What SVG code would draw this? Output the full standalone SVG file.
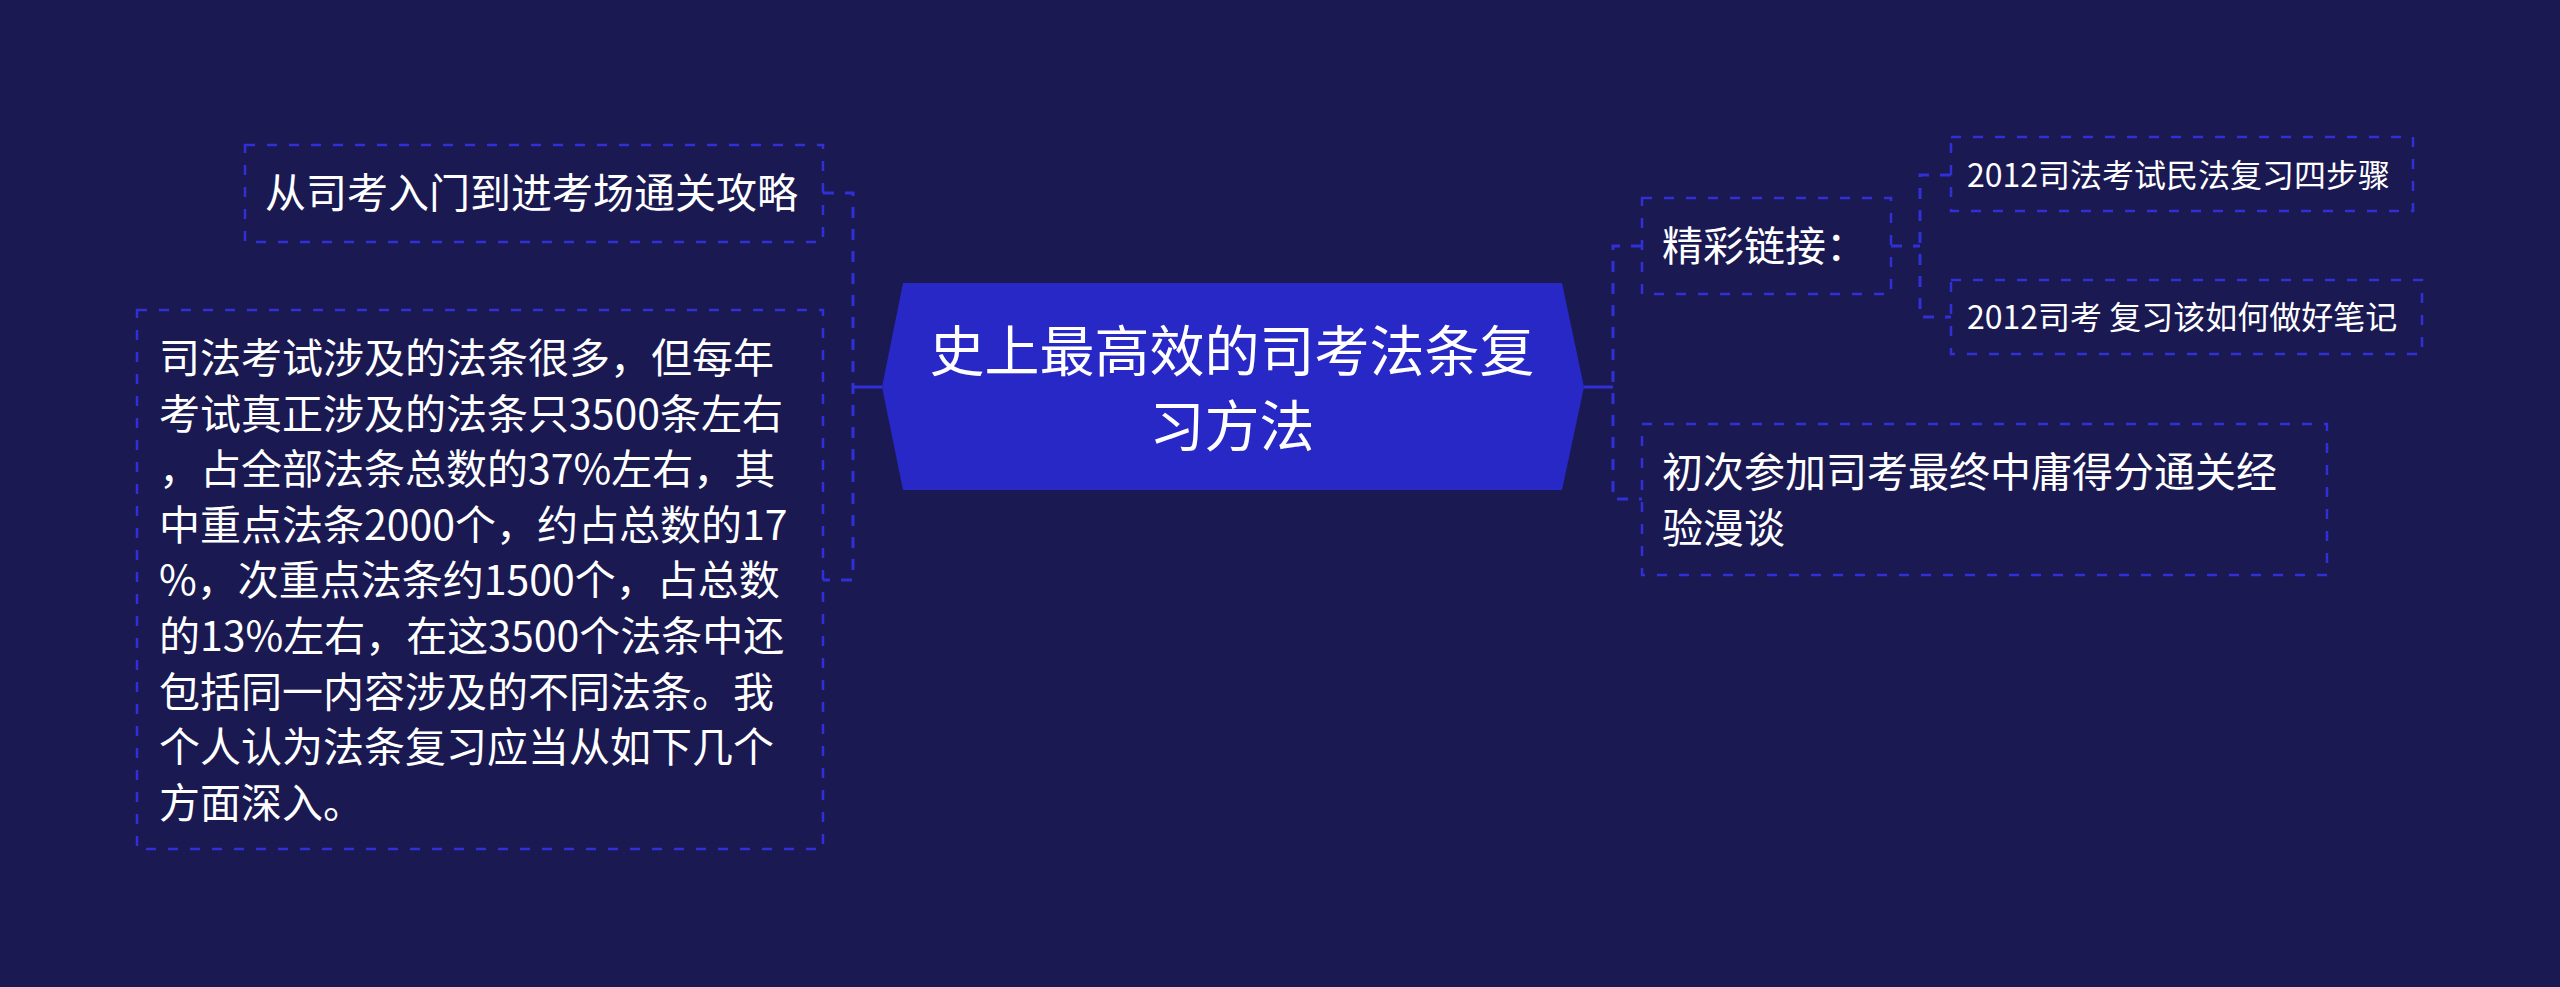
<svg xmlns="http://www.w3.org/2000/svg" width="2560" height="987" viewBox="0 0 2560 987">
<style>
.bg{fill:#1a1952}
.box{fill:none;stroke:#3030d6;stroke-width:2.5;stroke-dasharray:10 12}
.conn{fill:none;stroke:#3030d6;stroke-width:3;stroke-dasharray:11 11}
.solid{fill:none;stroke:#3030d6;stroke-width:3}
text{font-family:"Noto Sans CJK SC","Noto Sans",sans-serif;fill:#ffffff}
.t41{font-size:41px}
.t32{font-size:32px}
.t55{font-size:55px}
</style>
<rect class="bg" x="0" y="0" width="2560" height="987"/>
<g id="connectors">
<path class="conn" d="M823 193 H853 V580 H823"/>
<path class="solid" d="M853 387 H882"/>
<path class="solid" d="M1584 387 H1613"/>
<path class="conn" d="M1642 246 H1613 V499 H1642"/>
<path class="conn" d="M1891 246 H1920"/>
<path class="conn" d="M1951 175 H1920 V317 H1951"/>
</g>
<g id="center">
<polygon points="903,283 1562,283 1584,387 1562,490 903,490 882,387" fill="#2828c6"/>
<text class="t55" x="1232" y="371" text-anchor="middle">史上最高效的司考法条复</text>
<text class="t55" x="1232" y="446" text-anchor="middle">习方法</text>
</g>
<g id="node-left1">
<rect class="box" x="245" y="145" width="578" height="97"/>
<text class="t41" x="265" y="208">从司考入门到进考场通关攻略</text>
</g>
<g id="node-left2">
<rect class="box" x="137" y="310" width="686" height="539"/>
<text class="t41" x="159" y="373">司法考试涉及的法条很多，但每年</text>
<text class="t41" x="159" y="428.6">考试真正涉及的法条只3500条左右</text>
<text class="t41" x="159" y="484.2">，占全部法条总数的37%左右，其</text>
<text class="t41" x="159" y="539.8">中重点法条2000个，约占总数的17</text>
<text class="t41" x="159" y="595.4">%，次重点法条约1500个，占总数</text>
<text class="t41" x="159" y="651">的13%左右，在这3500个法条中还</text>
<text class="t41" x="159" y="706.6">包括同一内容涉及的不同法条。我</text>
<text class="t41" x="159" y="762.2">个人认为法条复习应当从如下几个</text>
<text class="t41" x="159" y="817.8">方面深入。</text>
</g>
<g id="node-links">
<rect class="box" x="1642" y="198" width="249" height="96"/>
<text class="t41" x="1662" y="261">精彩链接：</text>
</g>
<g id="node-link1">
<rect class="box" x="1951" y="137" width="462" height="74"/>
<text class="t32" x="1967" y="187">2012司法考试民法复习四步骤</text>
</g>
<g id="node-link2">
<rect class="box" x="1951" y="280" width="471" height="74"/>
<text class="t32" x="1967" y="329">2012司考 复习该如何做好笔记</text>
</g>
<g id="node-right2">
<rect class="box" x="1642" y="424" width="685" height="151"/>
<text class="t41" x="1662" y="487">初次参加司考最终中庸得分通关经</text>
<text class="t41" x="1662" y="542.6">验漫谈</text>
</g>
</svg>
